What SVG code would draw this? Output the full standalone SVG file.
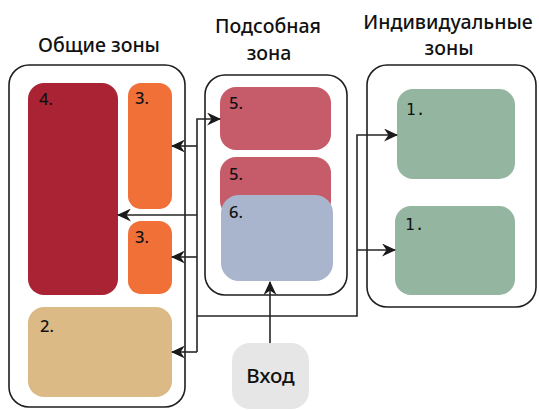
<svg xmlns="http://www.w3.org/2000/svg" width="539" height="410" viewBox="0 0 539 410">
  <defs>
    <marker id="arrow" markerUnits="userSpaceOnUse" markerWidth="14" markerHeight="13" viewBox="0 0 14 13" refX="13" refY="6.5" orient="auto">
      <path d="M0,0 L14,6.5 L0,13 L4.5,6.5 z" fill="#1a1a1a"/>
    </marker>
    <style>
      .zone { fill: #ffffff; stroke: #1f1f1f; stroke-width: 1.6; }
      .title { font-family: "Noto Sans", "Liberation Sans", sans-serif; font-size: 19.5px; font-weight: 500; fill: #111; text-anchor: middle; }
      .num { font-family: "Noto Sans", "Liberation Sans", sans-serif; font-size: 16.5px; font-weight: 500; fill: #111; }
      .mono { font-family: "DejaVu Sans Mono", monospace; font-size: 16px; fill: #111; }
      .link { fill: none; stroke: #262626; stroke-width: 1.6; }
      .c4 { fill: #a92335; }
      .c3 { fill: #f07038; }
      .c2 { fill: #dcba86; }
      .c5 { fill: #c65b6a; }
      .c6 { fill: #a8b5cc; }
      .c1 { fill: #94b59f; }
      .entry { fill: #e6e6e6; }
    </style>
  </defs>

  <!-- headings -->
  <text class="title" x="99" y="52">Общие зоны</text>
  <text class="title" x="268" y="33">Подсобная</text>
  <text class="title" x="269" y="60">зона</text>
  <text class="title" x="448" y="29">Индивидуальные</text>
  <text class="title" x="449" y="55">зоны</text>

  <!-- zone frames -->
  <rect id="zone-common" class="zone" x="9" y="65" width="176" height="342" rx="20"/>
  <rect id="zone-utility" class="zone" x="205" y="75" width="142" height="220" rx="20"/>
  <rect id="zone-private" class="zone" x="367" y="65" width="169" height="242" rx="20"/>

  <!-- common zones -->
  <g id="node-4">
    <rect class="c4" x="28" y="83" width="90" height="212" rx="16"/>
    <text class="num" x="39" y="105">4.</text>
  </g>
  <g id="node-3a">
    <rect class="c3" x="128" y="83" width="44" height="126" rx="13"/>
    <text class="num" x="135" y="104">3.</text>
  </g>
  <g id="node-3b">
    <rect class="c3" x="128" y="221" width="44" height="73" rx="13"/>
    <text class="num" x="135" y="243">3.</text>
  </g>
  <g id="node-2">
    <rect class="c2" x="28" y="307" width="144" height="90" rx="16"/>
    <text class="num" x="40" y="332">2.</text>
  </g>

  <!-- utility zone -->
  <g id="node-5a">
    <rect class="c5" x="220" y="87" width="111" height="63" rx="16"/>
    <text class="num" x="229" y="109">5.</text>
  </g>
  <g id="node-5b">
    <rect class="c5" x="220" y="157" width="111" height="60" rx="16"/>
    <text class="num" x="229" y="180">5.</text>
  </g>
  <g id="node-6">
    <rect class="c6" x="221" y="195" width="112" height="86" rx="18"/>
    <text class="num" x="229" y="218">6.</text>
  </g>

  <!-- private zones -->
  <g id="node-1a">
    <rect class="c1" x="397" y="89" width="118" height="90" rx="16"/>
    <text class="mono" x="406" y="115">1.</text>
  </g>
  <g id="node-1b">
    <rect class="c1" x="395" y="206" width="120" height="89" rx="16"/>
    <text class="mono" x="405" y="230">1.</text>
  </g>

  <!-- entrance -->
  <g id="node-entry">
    <rect class="entry" x="232" y="343" width="77" height="66" rx="18"/>
    <text x="270.5" y="383" text-anchor="middle" font-family="'Noto Sans', 'Liberation Sans', sans-serif" font-size="20.5" font-weight="500" fill="#111">Вход</text>
  </g>

  <!-- connectors -->
  <g id="connectors">
    <path class="link" d="M197,352 V119 H220" marker-end="url(#arrow)"/>
    <path class="link" d="M197,146 H172" marker-end="url(#arrow)"/>
    <path class="link" d="M197,215 H118" marker-end="url(#arrow)"/>
    <path class="link" d="M197,257 H172" marker-end="url(#arrow)"/>
    <path class="link" d="M197,352 H172" marker-end="url(#arrow)"/>
    <path class="link" d="M197,316 H357 V135 H397" marker-end="url(#arrow)"/>
    <path class="link" d="M357,250 H395" marker-end="url(#arrow)"/>
    <path class="link" d="M270,343 V282" marker-end="url(#arrow)"/>
  </g>
</svg>
